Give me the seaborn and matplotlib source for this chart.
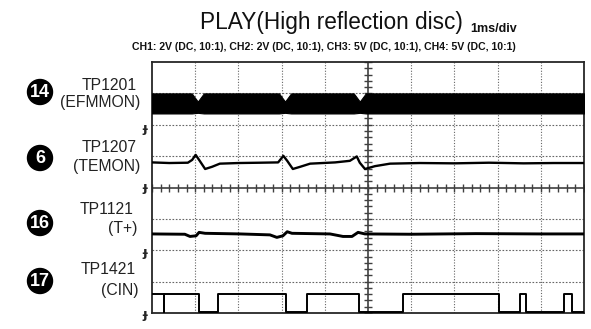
import matplotlib
matplotlib.use("Agg")
import seaborn as sns
import matplotlib.pyplot as plt
from matplotlib.patches import Ellipse

# Time in ms (1 ms/div), amplitude in screen divisions (0 = bottom, 8 = top)

# CH1 TP1201 (EFMMON): dense RF signal, drawn as its envelope
ch1_t = [0.0, 0.92, 1.06, 1.20, 2.94, 3.08, 3.22, 4.67, 4.81, 4.95, 10.0]
ch1_top = [7.00, 7.00, 6.74, 7.00, 7.00, 6.74, 7.00, 7.00, 6.74, 7.00, 7.00]
ch1_bot = [6.36, 6.36, 6.38, 6.36, 6.36, 6.38, 6.36, 6.36, 6.38, 6.36, 6.36]

# CH2 TP1207 (TEMON)
ch2_t = [0.00, 0.40, 0.83, 0.93, 1.01, 1.09, 1.23, 1.39, 1.57, 2.00, 2.50,
         2.92, 2.99, 3.04, 3.13, 3.26, 3.43, 3.66, 4.24, 4.58, 4.74, 4.81,
         4.93, 5.16, 5.51, 6.20, 7.00, 7.80, 8.60, 9.30, 10.0]
ch2_v = [4.80, 4.78, 4.79, 4.88, 5.04, 4.88, 4.59, 4.66, 4.76, 4.78, 4.79,
         4.80, 4.92, 5.01, 4.85, 4.59, 4.66, 4.76, 4.80, 4.85, 4.99, 4.79,
         4.59, 4.68, 4.76, 4.78, 4.77, 4.79, 4.77, 4.78, 4.78]

# CH3 TP1121 (T+)
ch3_t = [0.00, 0.76, 0.88, 1.02, 1.09, 1.23, 2.04, 2.73, 2.89, 3.03, 3.13,
         3.24, 4.12, 4.42, 4.63, 4.77, 4.93, 6.00, 7.50, 9.00, 10.0]
ch3_v = [2.52, 2.51, 2.44, 2.46, 2.57, 2.54, 2.52, 2.49, 2.41, 2.46, 2.59,
         2.54, 2.52, 2.44, 2.44, 2.57, 2.52, 2.51, 2.53, 2.52, 2.52]

# CH4 TP1421 (CIN): logic level, value holds until the next edge
ch4_t = [0.00, 0.27, 0.285, 1.09, 1.53, 3.10, 3.58, 4.80, 5.82, 8.03, 8.52,
         8.66, 9.54, 9.72, 10.0]
ch4_v = [0.61, 0.03, 0.61, 0.03, 0.61, 0.03, 0.61, 0.03, 0.61, 0.03, 0.61,
         0.03, 0.61, 0.03, 0.03]

# ground level markers (divisions) and channel labels
gnd_levels = [5.87, 3.99, 1.92, -0.06]
ch_numbers = ["14", "6", "16", "17"]
ch_points = ["TP1201", "TP1207", "TP1121", "TP1421"]
ch_names = ["(EFMMON)", "(TEMON)", "(T+)", "(CIN)"]

title = "PLAY(High reflection disc)"
timebase = "1ms/div"
settings = "CH1: 2V (DC, 10:1), CH2: 2V (DC, 10:1), CH3: 5V (DC, 10:1), CH4: 5V (DC, 10:1)"

sns.set_style("white")
plt.rcParams["font.family"] = ["Liberation Sans", "DejaVu Sans"]

W, H = 591, 329
fig = plt.figure(figsize=(W / 100, H / 100), dpi=100)
ax = fig.add_axes([152 / W, 1 - 313 / H, 432 / W, 251 / H])
ax.set_xlim(0, 10)
ax.set_ylim(0, 8)

# graticule
for i in range(1, 10):
    if i != 5:
        ax.axvline(i, color="0.4", lw=0.8, ls=(0, (1, 1.5)), zorder=1)
for j in range(1, 8):
    if j != 4:
        ax.axhline(j, color="0.4", lw=0.8, ls=(0, (1.5, 1.5)), zorder=1)
ax.axvline(5, color="0.25", lw=1.2, zorder=1)
ax.axhline(4, color="0.25", lw=1.2, zorder=1)
ticks_x = [k / 5 for k in range(51)]
ticks_y = [k / 5 for k in range(41)]
ax.plot(ticks_x, [4] * len(ticks_x), ls="none", marker="|", ms=6, mew=1, color="0.25", zorder=1)
ax.plot([5] * len(ticks_y), ticks_y, ls="none", marker="_", ms=6, mew=1, color="0.25", zorder=1)

# traces
ax.fill_between(ch1_t, ch1_bot, ch1_top, color="black", lw=0.8, zorder=3)
sns.lineplot(x=ch2_t, y=ch2_v, ax=ax, color="black", lw=1.7, sort=False, estimator=None, zorder=3)
sns.lineplot(x=ch3_t, y=ch3_v, ax=ax, color="black", lw=2.1, sort=False, estimator=None, zorder=3)
sns.lineplot(x=ch4_t, y=ch4_v, ax=ax, color="black", lw=1.4, sort=False, estimator=None,
             drawstyle="steps-post", zorder=3)

for spine in ax.spines.values():
    spine.set_visible(True)
    spine.set_color("0.15")
    spine.set_linewidth(1.3)
ax.set_xticks([])
ax.set_yticks([])
ax.set_xlabel("")
ax.set_ylabel("")

for lev in gnd_levels:
    ax.text(-0.17, lev, "ɟ", ha="center", va="center", fontsize=9.5, fontweight="bold",
            family="DejaVu Sans", clip_on=False)

# channel labels on the left
circle_y = [92, 158, 223, 281]
point_y = [85, 148, 210, 270]
name_y = [103, 167, 228, 290]
label_x = [137, 137, 134, 136]
for num, cy, tp, ty, nm, ny, lx in zip(ch_numbers, circle_y, ch_points, point_y,
                                       ch_names, name_y, label_x):
    fig.add_artist(Ellipse((40 / W, 1 - cy / H), 25 / W, 25 / H,
                           transform=fig.transFigure, fc="black", ec="black"))
    fig.text(40 / W, 1 - (cy + 0.5) / H, num, ha="center", va="center", color="white",
             fontsize=13, fontweight="bold")
    fig.text(lx / W, 1 - ty / H, tp, ha="right", va="center", fontsize=11.3, color="#222222")
    fig.text((lx + 3) / W, 1 - ny / H, nm, ha="right", va="center", fontsize=11.3, color="#222222")

fig.text(331 / W, 1 - 22 / H, title, ha="center", va="center", fontsize=16.3, color="#111111")
fig.text(470 / W, 1 - 29 / H, timebase, ha="left", va="center", fontsize=9,
         fontweight="bold", color="#111111")
fig.text(324 / W, 1 - 47 / H, settings, ha="center", va="center", fontsize=7.6,
         fontweight="bold", color="#111111")

fig.savefig("out.png", dpi=100, facecolor="white")
